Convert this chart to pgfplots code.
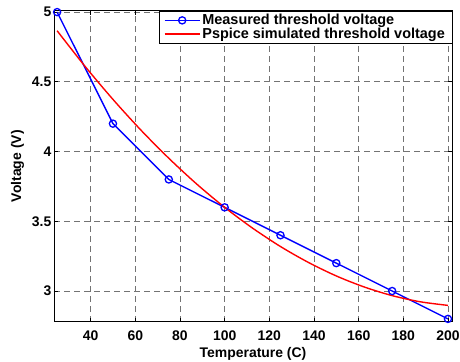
\documentclass[border=0pt]{standalone}
\usepackage{fontspec}
\setmainfont{Liberation Sans}
\usepackage{pgfplots}
\pgfplotsset{compat=1.18}
\begin{document}
\begin{tikzpicture}[x=1bp,y=1bp]
\useasboundingbox (-54bp,-40.3bp) rectangle (406bp,321.7bp);
\begin{axis}[
  at={(0,0)}, anchor=south west,
  scale only axis, width=398bp, height=311bp,
  xmin=23.6, xmax=201.8, ymin=2.78, ymax=5.01,
  xtick={40,60,80,100,120,140,160,180,200},
  ytick={3,3.5,4,4.5,5},
  yticklabels={3,3.5,4,4.5,5},
  tick align=inside, tick pos=both,
  major tick length=4bp,
  grid=major,
  major grid style={black!55, line width=0.7pt, dash pattern=on 6bp off 4bp},
  axis line style={line width=1pt},
  tick style={black, line width=0.7pt},
  font=\fontsize{14}{16}\selectfont\bfseries,
  /pgf/number format/assume math mode=true,
  ticklabel style={font=\fontsize{14}{16}\selectfont\bfseries},
  xticklabel style={anchor=base, yshift=-18.3bp},
  yticklabel style={anchor=east, xshift=0.5bp, inner sep=3bp},
  xlabel={Temperature (C)}, ylabel={Voltage (V)},
  xlabel style={at={(axis description cs:0.5,-0.1167)}, anchor=base},
  ylabel style={at={(axis description cs:-0.0829,0.5)}, anchor=base},
  legend style={at={(1,1)}, anchor=north east, draw=black,
    font=\fontsize{14.5}{16}\selectfont\bfseries, inner ysep=1.5bp, inner xsep=5bp, row sep=-2.5bp,
    cells={anchor=west}},
  legend cell align=left,
  legend image code/.code={\draw[line width=1.4pt,mark repeat=2,mark phase=2,#1] plot coordinates {(0bp,0bp) (17.5bp,0bp) (35bp,0bp)};},
]
\addplot[blue, line width=1.4pt, mark=o, mark size=3.6bp, mark options={line width=1.3pt}]
  coordinates {(25,5) (50,4.2) (75,3.8) (100,3.6) (125,3.4) (150,3.2) (175,3.0) (200,2.8)};
\addlegendentry{Measured threshold voltage}
\addplot[red, line width=1.4pt, smooth]
  coordinates {(25,4.866) (37.5,4.611) (50,4.374) (62.5,4.154) (75,3.952) (87.5,3.767)
   (100,3.600) (112.5,3.451) (125,3.319) (137.5,3.205) (150,3.108) (162.5,3.029)
   (175,2.967) (187.5,2.923) (200,2.897)};
\addlegendentry{Pspice simulated threshold voltage}
\end{axis}
\end{tikzpicture}
\end{document}
